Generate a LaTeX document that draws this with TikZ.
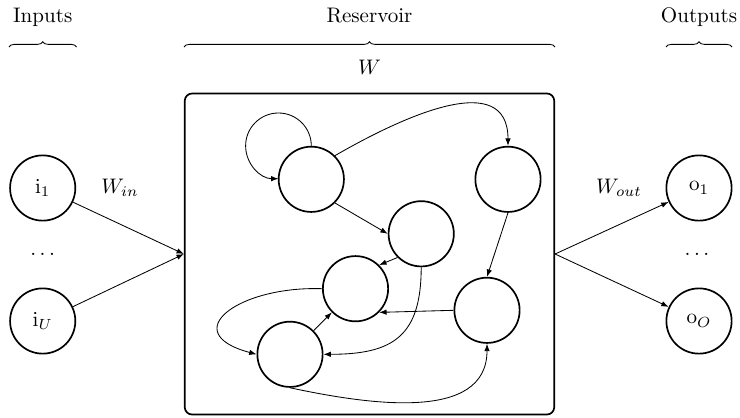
\documentclass[tikz,border=0pt]{standalone}
\usetikzlibrary{arrows.meta,decorations.pathreplacing}
\begin{document}
\begin{tikzpicture}[x=0.475pt,y=-0.475pt,
  neuron/.style={circle,draw,thick,minimum size=31pt,inner sep=0pt},
  conn/.style={-{Latex[length=3.5pt,width=2.6pt]}},
  brc/.style={decorate,decoration={brace,amplitude=2.5pt}},
  lbl/.style={anchor=base,inner sep=0pt}]
\useasboundingbox (0,0) rectangle (740,417);

% headers
\node[lbl] (tin) at (42.7,22) {Inputs};
\node[lbl] (tres) at (369.5,22) {Reservoir};
\node[lbl] (tout) at (699,22) {Outputs};
\draw[brc] (9,47) -- (76.5,47);
\draw[brc] (184,47) -- (555,47);
\draw[brc] (666,47) -- (732,47);
\node[lbl] (w) at (369.5,74) {$W$};

% reservoir box
\node[draw,thick,rounded corners=3.5pt,minimum width=175.5pt,minimum height=152.5pt,inner sep=0pt] (res) at (369.5,254) {};

% inputs
\node[neuron] (i1) at (42.7,188) {$\mathrm{i}_1$};
\node[neuron] (iU) at (42.7,321) {$\mathrm{i}_U$};
\node (idots) at (42.7,254) {$\dots$};
\node (win) at (120,188) {$W_{in}$};
\draw[conn] (i1) -- (res.west);
\draw[conn] (iU) -- (res.west);

% outputs
\node[neuron] (o1) at (699,188) {$\mathrm{o}_1$};
\node[neuron] (oO) at (699,321) {$\mathrm{o}_O$};
\node (odots) at (697,254) {$\dots$};
\node (wout) at (619,188) {$W_{out}$};
\draw[conn] (res.east) -- (o1);
\draw[conn] (res.east) -- (oO);

% reservoir neurons
\node[neuron] (A) at (311.3,179.3) {};
\node[neuron] (B) at (508,179.3) {};
\node[neuron] (C) at (421.2,233.8) {};
\node[neuron] (D) at (355.5,288.7) {};
\node[neuron] (E) at (487,310.3) {};
\node[neuron] (F) at (290,354.3) {};

\draw[conn] (A.north) arc[start angle=0,end angle=270,radius=15.6pt];
\draw[conn] (A.45) to[out=30,in=90,looseness=1.15] (B.north);
\draw[conn] (A.-45) -- (C.west);
\draw[conn] (B.south) -- (E.north);
\draw[conn] (C.south west) -- (D.north east);
\draw[conn] (E.west) -- (D.south east);
\draw[conn] (F.north east) -- (D.south west);
\draw[conn] (D.west) to[out=178,in=165,looseness=2.3] (F.west);
\draw[conn] (C.south) to[out=-90,in=0,looseness=1.35] (F.east);
\draw[conn] (F.south) to[out=-12,in=-90] (E.south);
\end{tikzpicture}
\end{document}
